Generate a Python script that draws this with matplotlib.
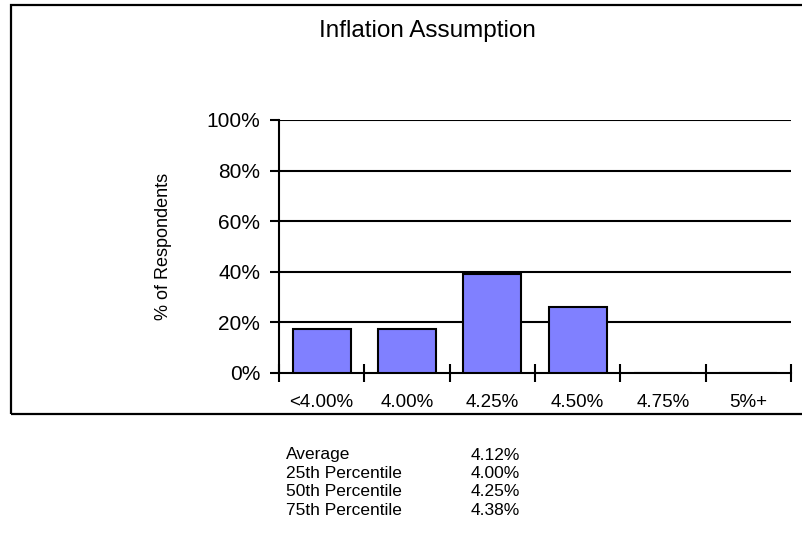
import matplotlib
matplotlib.use('Agg')
import matplotlib.pyplot as plt
from matplotlib.patches import Rectangle
import numpy as np

plt.rcParams['font.family'] = ['Liberation Sans', 'DejaVu Sans']

# datos
categorias = ['<4.00%', '4.00%', '4.25%', '4.50%', '4.75%', '5%+']
porcentajes = [17.4, 17.4, 39.1, 26.1, 0, 0]
y_ticks = [0, 20, 40, 60, 80, 100]
estad_nombres = ['Average', '25th Percentile', '50th Percentile', '75th Percentile']
estad_valores = ['4.12%', '4.00%', '4.25%', '4.38%']

fig = plt.figure(figsize=(8.03, 5.41), dpi=100)
ax = fig.add_axes([279 / 803, 1 - 373 / 541, 512 / 803, 253 / 541])

x = np.arange(len(categorias))
ax.bar(x, porcentajes, width=0.68, color='#8080FF', edgecolor='black', linewidth=1.5, zorder=3)

ax.set_xlim(-0.5, len(categorias) - 0.5)
ax.set_ylim(0, 100)

# lineas horizontales
for v in y_ticks[1:]:
    ax.axhline(v, color='black', linewidth=1.5, zorder=1)

ax.set_yticks(y_ticks)
ax.set_yticklabels([f'{v}%' for v in y_ticks], fontsize=15)
ax.tick_params(axis='y', direction='out', length=6.5, width=1.5, pad=7)

ax.set_xticks(np.arange(-0.5, len(categorias), 1.0))
ax.set_xticklabels([])
ax.tick_params(axis='x', which='major', direction='inout', length=13, width=1.5)
ax.set_xticks(x, minor=True)
ax.set_xticklabels(categorias, minor=True, fontsize=13.5)
ax.tick_params(axis='x', which='minor', length=0, pad=15)

for lado in ['top', 'right']:
    ax.spines[lado].set_visible(False)
ax.spines['left'].set_linewidth(1.5)
ax.spines['bottom'].set_linewidth(1.5)

ax.set_ylabel('% of Respondents', fontsize=13)
ax.yaxis.set_label_coords(-0.209, 0.5)

fig.text(427 / 803, 1 - 31 / 541, 'Inflation Assumption', fontsize=17.5,
         ha='center', va='center')

# marco exterior
fig.patches.append(Rectangle((11 / 803, 1 - 414 / 541), 1.0, (414 - 5) / 541,
                             transform=fig.transFigure, fill=False,
                             edgecolor='black', linewidth=1.6))

# tabla de estadisticas
for i, (nombre, valor) in enumerate(zip(estad_nombres, estad_valores)):
    yy = 1 - (455 + 18.5 * i) / 541
    fig.text(286 / 803, yy, nombre, fontsize=12.5, va='center')
    fig.text(471 / 803, yy, valor, fontsize=12.5, va='center')

plt.savefig('out.png', dpi=100)
plt.close()
